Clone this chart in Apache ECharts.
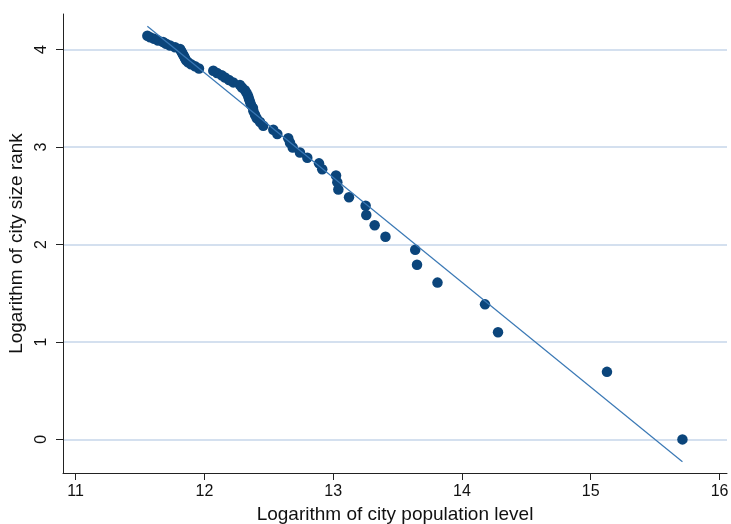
<!DOCTYPE html>
<html>
<head>
<meta charset="utf-8">
<script src="https://cdn.jsdelivr.net/npm/echarts@6/dist/echarts.min.js"></script>
<style>
html,body{margin:0;padding:0;background:#fff;}
#chart{width:731px;height:524px;}
</style>
</head>
<body>
<div id="chart"></div>
<script>
// log city population (x) for ranks 1..63
var xValues = [15.712,15.126,14.280,14.179,13.810,13.651,13.637,13.406,13.322,13.257,
  13.252,13.123,13.040,13.032,13.022,12.915,12.890,12.799,12.742,12.686,
  12.665,12.651,12.566,12.535,12.457,12.432,12.406,12.393,12.381,12.377,
  12.362,12.354,12.346,12.339,12.328,12.315,12.292,12.276,12.224,12.191,
  12.160,12.134,12.098,12.069,11.958,11.927,11.896,11.873,11.857,11.849,
  11.842,11.834,11.826,11.818,11.811,11.772,11.733,11.702,11.679,11.640,
  11.609,11.578,11.557];
// log city size rank (y)
var yValues = [0,0.693,1.099,1.386,1.609,1.792,1.946,2.079,2.197,2.303,
  2.398,2.485,2.565,2.639,2.708,2.773,2.833,2.890,2.944,2.996,
  3.045,3.091,3.135,3.178,3.219,3.258,3.296,3.332,3.367,3.401,
  3.434,3.466,3.497,3.526,3.555,3.584,3.611,3.638,3.664,3.689,
  3.714,3.738,3.761,3.784,3.807,3.829,3.850,3.871,3.892,3.912,
  3.932,3.951,3.970,3.989,4.007,4.025,4.043,4.060,4.078,4.094,
  4.111,4.127,4.143];
// fitted line endpoints
var fitX = [11.557, 15.712];
var fitY = [4.24, -0.23];
var xTicks = [11,12,13,14,15,16];
var yTicks = [0,1,2,3,4];

var points = xValues.map(function(x,i){return [x, yValues[i]];});
var fitLine = fitX.map(function(x,i){return [x, fitY[i]];});

var chart = echarts.init(document.getElementById('chart'), null, {renderer:'canvas'});
var font = 'Liberation Sans, Arial, Helvetica, sans-serif';
chart.setOption({
  animation:false,
  backgroundColor:'#ffffff',
  grid:{left:63, right:4, top:14, bottom:51, containLabel:false, outerBoundsMode:'none'},
  xAxis:{
    type:'value', min:10.902, max:16.058,
    name:'Logarithm of city population level', nameLocation:'middle', nameGap:31,
    nameTextStyle:{fontFamily:font, fontSize:19, color:'#111'},
    axisLine:{show:true, onZero:false, lineStyle:{color:'#222', width:1}},
    axisTick:{show:true, length:7, customValues:xTicks, lineStyle:{color:'#222'}},
    axisLabel:{customValues:xTicks, fontFamily:font, fontSize:16, color:'#111', margin:11},
    splitLine:{show:false}
  },
  yAxis:{
    type:'value', min:-0.345, max:4.366,
    name:'Logarithm of city size rank', nameLocation:'middle', nameGap:32,
    nameTextStyle:{fontFamily:font, fontSize:19, color:'#111'},
    axisLine:{show:true, onZero:false, lineStyle:{color:'#222', width:1}},
    axisTick:{show:true, length:7, customValues:yTicks, lineStyle:{color:'#222'}},
    axisLabel:{customValues:yTicks, rotate:90, fontFamily:font, fontSize:16, color:'#111', margin:13},
    splitLine:{show:true, lineStyle:{color:'#c6d6ea', width:1.5}}
  },
  series:[
    {type:'scatter', data:points, symbolSize:10.5, itemStyle:{color:'#0b457b', opacity:1}, z:3},
    {type:'line', data:fitLine, showSymbol:false, symbol:'none', lineStyle:{color:'#3a78b5', width:1.2}, z:4}
  ]
});
</script>
</body>
</html>
